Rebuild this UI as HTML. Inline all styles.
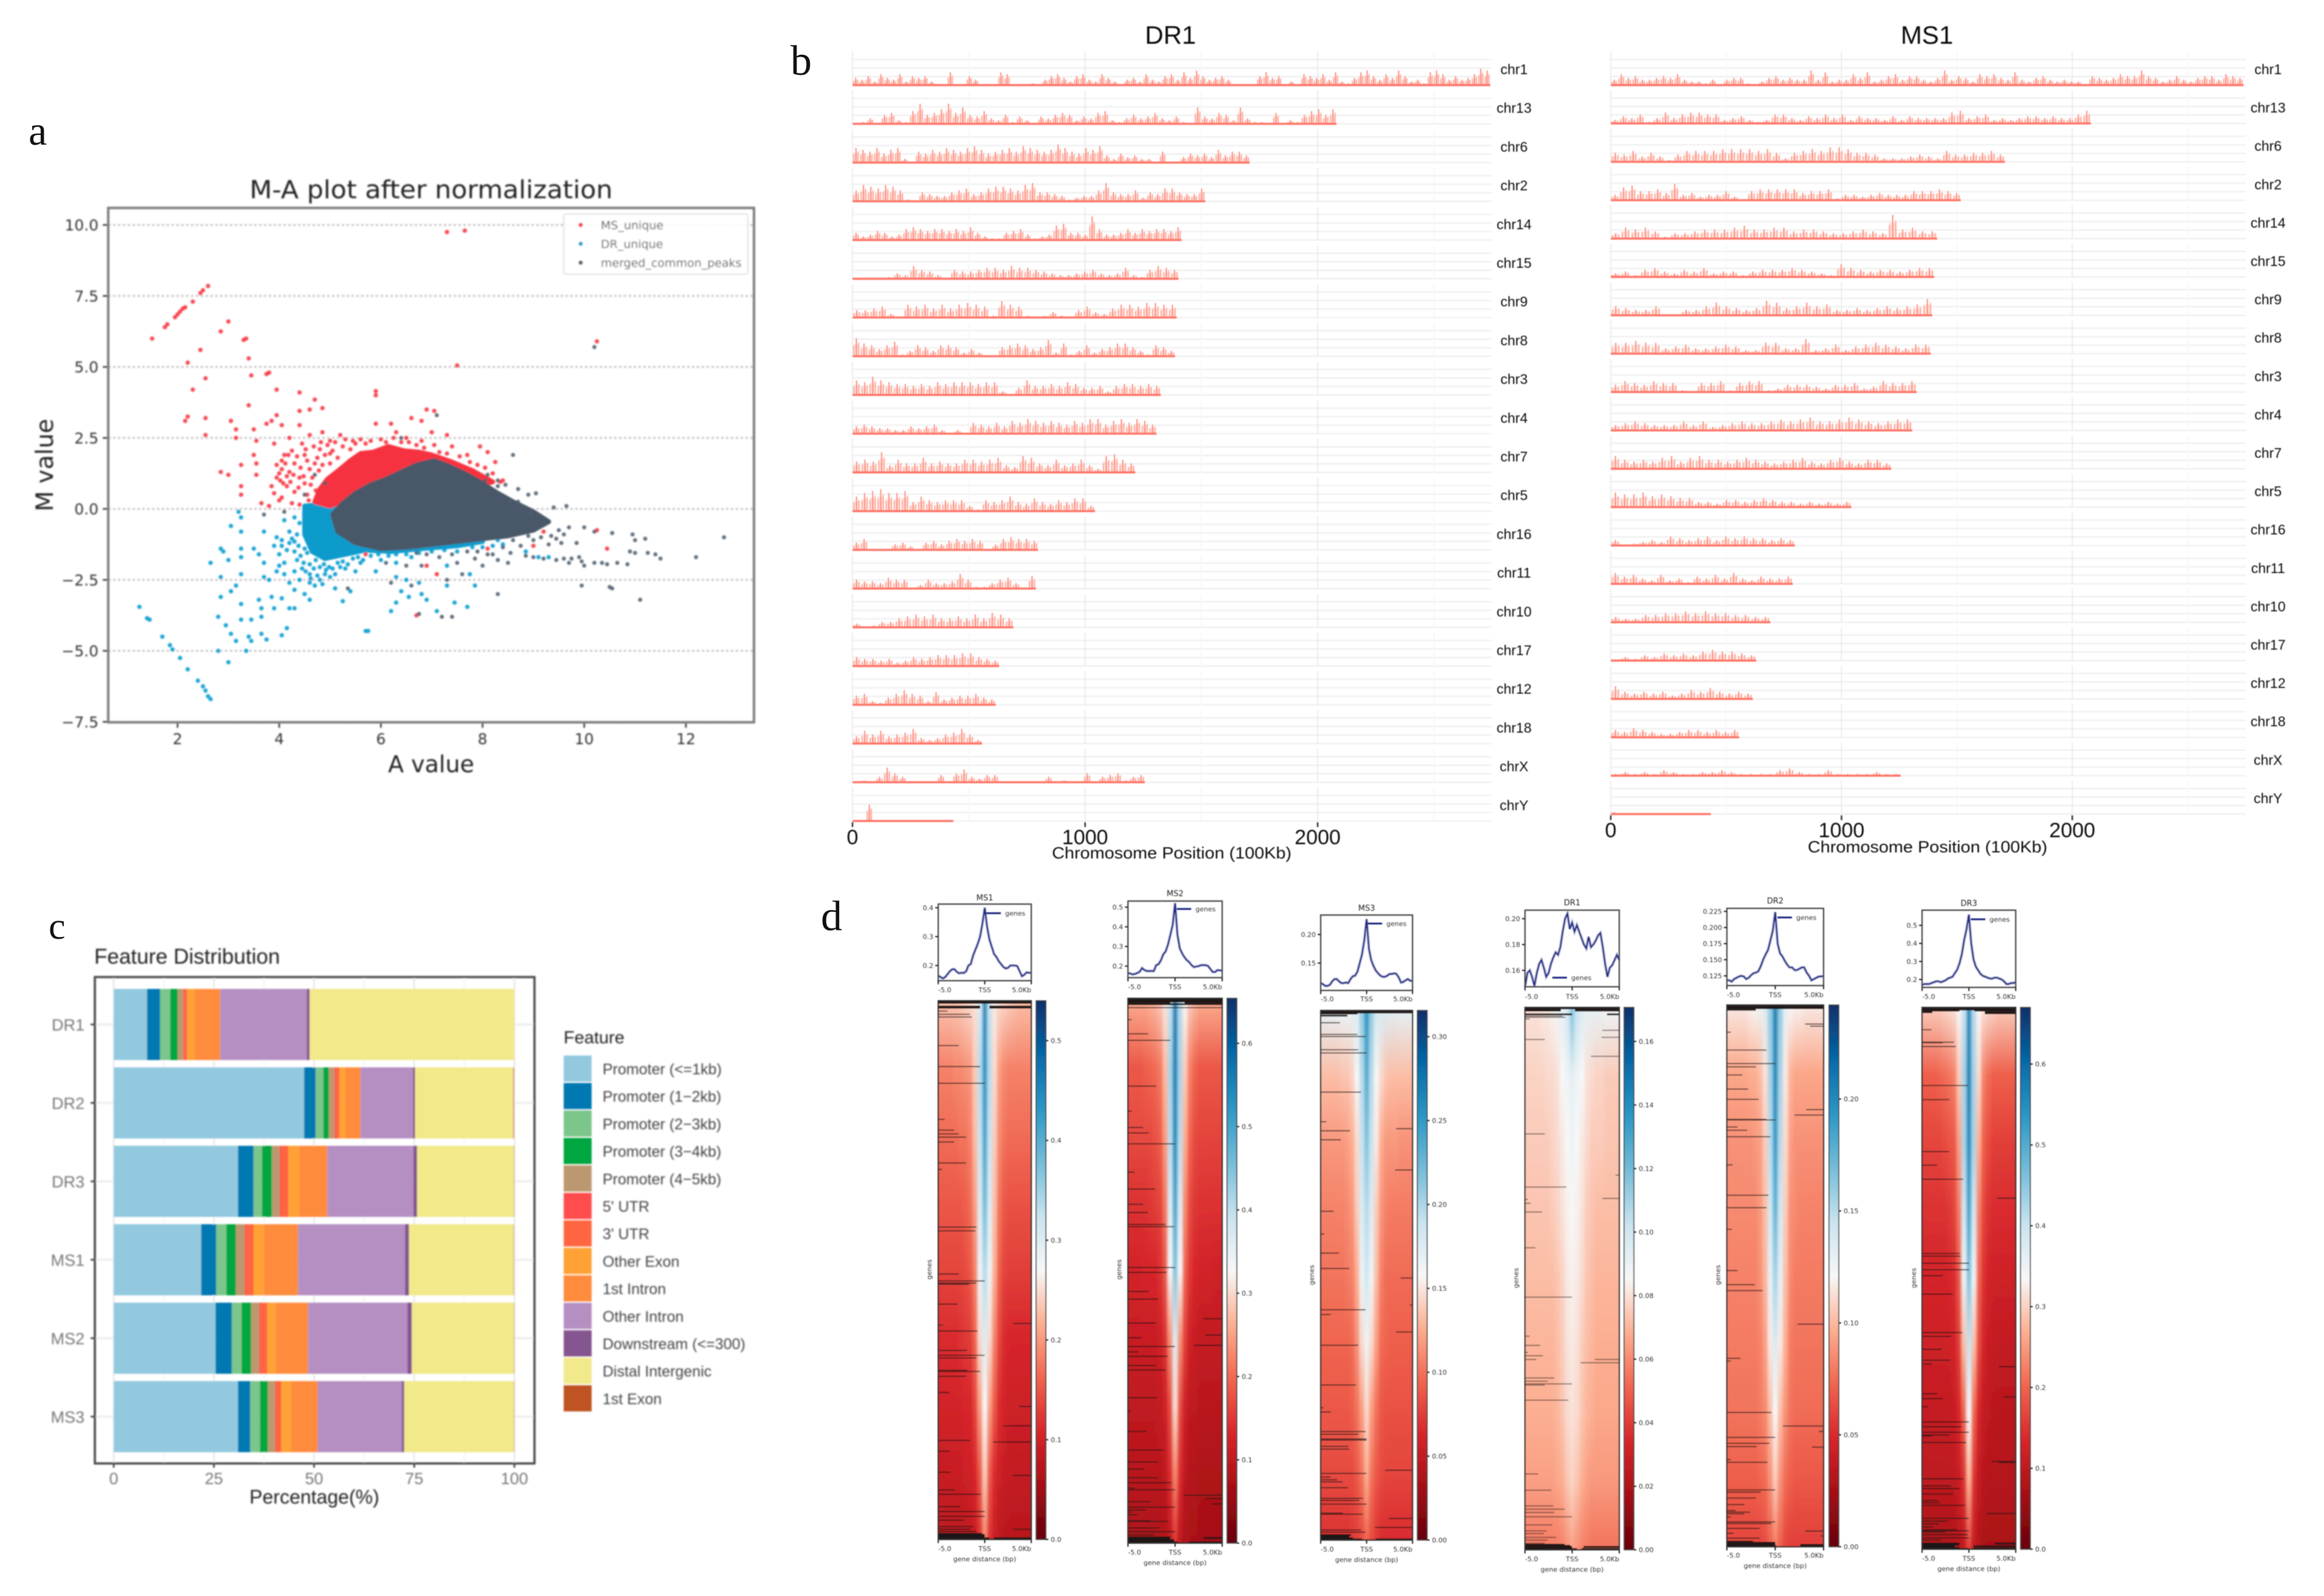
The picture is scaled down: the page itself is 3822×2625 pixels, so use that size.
<!DOCTYPE html>
<html lang="en">
<head>
<meta charset="utf-8">
<title>ATAC-seq multi-panel figure</title>
<style>
html,body{margin:0;padding:0;background:#fff;}
svg{display:block;}
.serif{font-family:"Liberation Serif",serif;fill:#111;}
.sans{font-family:"Liberation Sans",sans-serif;}
.dv{font-family:"DejaVu Sans",sans-serif;}
</style>
</head>
<body>
<svg id="fig" xmlns="http://www.w3.org/2000/svg" width="3822" height="2625" viewBox="0 0 3822 2625">
<defs>
<filter id="soft" filterUnits="userSpaceOnUse" x="0" y="0" width="3822" height="2625"><feGaussianBlur stdDeviation="1.2"/></filter>
<filter id="softer" filterUnits="userSpaceOnUse" x="0" y="0" width="3822" height="2625"><feGaussianBlur stdDeviation="0.7"/></filter>
</defs>
<rect width="3822" height="2625" fill="#fff"/>

<text class="serif" x="47" y="238" font-size="68">a</text>
<text class="serif" x="1300" y="123" font-size="70">b</text>
<text class="serif" x="80" y="1544" font-size="62">c</text>
<text class="serif" x="1350" y="1530" font-size="70">d</text>

<g id="panelA" filter="url(#soft)">
<text class="dv" x="709" y="326" font-size="41" text-anchor="middle" textLength="597" lengthAdjust="spacingAndGlyphs" fill="#222">M-A plot after normalization</text>
<text class="dv" x="709" y="1270" font-size="38" text-anchor="middle" fill="#222">A value</text>
<text class="dv" x="87" y="765" font-size="39" text-anchor="middle" transform="rotate(-90 87 765)" fill="#222">M value</text>
</g>

<g id="panelB" filter="url(#softer)">
<text class="sans" x="1925" y="72" font-size="42" text-anchor="middle" fill="#111">DR1</text>
<text class="sans" x="3169" y="72" font-size="42" text-anchor="middle" fill="#111">MS1</text>
<text class="sans" x="1927" y="1412" font-size="27" text-anchor="middle" textLength="394" lengthAdjust="spacingAndGlyphs" fill="#111">Chromosome Position (100Kb)</text>
<text class="sans" x="3170" y="1402" font-size="27" text-anchor="middle" textLength="394" lengthAdjust="spacingAndGlyphs" fill="#111">Chromosome Position (100Kb)</text>
</g>

<g id="panelC" filter="url(#soft)">
<text class="sans" x="155" y="1585" font-size="35" fill="#222">Feature Distribution</text>
<text class="sans" x="517" y="2473" font-size="32" text-anchor="middle" fill="#222">Percentage(%)</text>
<text class="sans" x="927" y="1716" font-size="29" fill="#222">Feature</text>
</g>

<g id="panelD" filter="url(#softer)"></g>
</svg>

<script>
/* ---------- panel a data : [A value, M value] ---------- */
const maRedPoints=[[1.5,6],[1.75,6.4],[1.8,6.5],[1.95,6.75],[2,6.85],[2.05,6.95],[2.1,7.05],[2.15,7.1],[2.3,7.3],[2.45,7.6],[2.5,7.7],[2.6,7.85],[2.2,5.15],[2.45,5.6],[2.55,4.6],[2.3,4.2],[2.15,3.1],[2.2,3.25],[2.55,3.2],[2.55,2.6],[2.85,6.25],[3,6.6],[3.3,5.95],[3.35,6],[3.4,5.3],[3.45,4.7],[3.8,4.8],[3.75,4.75],[3.95,4.2],[4.4,4.1],[4.7,3.85],[4.4,3.45],[4.6,3.5],[4.85,3.55],[3.4,3.65],[3.85,3.1],[3.95,3.3],[3.75,3],[3.05,3.1],[3.15,2.8],[3.15,2.5],[3.5,2.8],[4.05,2.95],[4.4,2.95],[4.6,2.6],[4.85,2.7],[3.55,2.4],[3.9,2.3],[4.2,2.5],[3.5,1.9],[3.55,1.6],[3.25,1.55],[2.85,1.3],[3,1.2],[3.25,.8],[3.25,.5],[3.55,1.2],[3.65,.2],[3.85,.8],[5.9,4.15],[5.9,4],[5.9,3],[6.2,3],[6.6,3.2],[6.8,3.1],[6.9,3.5],[7.05,3.45],[7.3,2.6],[6.3,2.7],[7.3,9.75],[7.65,9.8],[7.5,5.05],[10.25,5.9],[7.95,2.2],[8.1,2],[8.25,1.65],[8.4,1],[4.1,1.9],[4.05,1.4],[3.95,1.1],[4.2,1.3],[4.3,1.6],[4.5,1.9],[4.15,.8],[4.3,.6],[4.5,.9],[4.6,1.4],[4.75,1.8],[5.2,2.6],[5,2.4],[5.5,2.3],[10.25,-.75],[10.45,-1.4],[6.7,-3.75],[7.1,-2.3],[6.9,-2],[5.7,-1.6],[8.1,-1.4],[9,-1.3],[9.2,-.8],[4,.3],[3.8,.1],[4.05,1.7],[4.15,1.15],[4.25,2.05],[4.4,1.1],[4.45,2.3],[4.55,.5],[4.65,1.1],[4.8,2.1],[5,1.95],[6.5,2.5],[6.8,2.4],[7,2.7],[7.4,2.2],[7.7,1.9],
[3.95,1.55],[4,1.25],[4.02,1],[4.08,.9],[4.12,1.6],[4.18,1.9],[4.22,.95],[4.28,1.2],[4.35,1.85],[4.38,.75],[4.42,1.45],[4.48,1.15],[4.52,2.1],[4.55,1.7],[4.58,.3],[4.62,.85],[4.68,2.2],[4.7,1.6],[4.72,.65],[4.78,1.35],[4.82,2.35],[4.85,1.55],[4.9,1.9],[4.95,2.25],[5,1.6],[5.05,2.05],[5.1,2.35],[5.15,1.8],[5.25,2.2],[5.3,2.45],[5.4,2.1],[5.45,2.4],[5.6,2.45],[5.7,2.3],[5.8,2.4],[6,2.45],[6.1,2.35],[6.25,2.5],[6.4,2.35],[6.55,2.35],[6.7,2.25],[6.85,2.15],[7.05,2.25],[7.15,2],[7.3,1.95],[7.55,1.85],[7.75,1.65],[7.9,1.55],[8.05,1.45],[8.2,1.25],[8.35,.95],[3.9,.55],[4.05,.4],[4.25,.2],[4.4,.15]];
const maBluePoints=[[1.25,-3.45],[1.4,-3.85],[1.45,-3.9],[1.7,-4.5],[1.85,-4.8],[1.9,-4.95],[2.05,-5.25],[2.2,-5.65],[2.4,-6.05],[2.5,-6.25],[2.55,-6.4],[2.6,-6.6],[2.65,-6.7],[3.05,-.6],[3.25,-.3],[3.25,-.8],[3.7,-.8],[3.95,-1],[2.65,-1.9],[2.85,-1.4],[2.9,-1.5],[3,-1.8],[3.25,-1.4],[3.25,-1.7],[3.5,-1.4],[3.6,-1.6],[3.7,-1.9],[2.85,-2.4],[3.25,-2.3],[3.15,-2.7],[3.05,-2.9],[2.85,-3.1],[3.25,-3.35],[3.6,-3.2],[3.85,-3.1],[3.65,-3.5],[3.9,-3.5],[4.05,-3.15],[4.2,-3.5],[4.3,-3.5],[3.25,-3.9],[3.45,-3.9],[3.65,-3.8],[2.8,-3.8],[2.95,-4.1],[3.05,-4.4],[3.15,-4.65],[3.4,-4.5],[3.45,-4.65],[3.65,-4.4],[3.75,-4.6],[4.05,-4.45],[4.15,-4.2],[2.8,-5],[3,-5.4],[3.35,-5],[3.95,-2.2],[4.1,-2.3],[4.2,-2.6],[4.3,-2.85],[4.5,-3],[4.6,-3.2],[3.7,-2.4],[3.8,-2.5],[4,-1.6],[4.05,-1.3],[4.1,-1.9],[4.3,-1.5],[4.3,-2.2],[5.75,-4.3],[5.7,-4.3],[5.25,-3.25],[6.2,-3.6],[6.3,-3.3],[6.55,-3.1],[6.8,-3],[6.9,-3.2],[7.1,-3.6],[7.45,-3.3],[7.7,-3.45],[6.4,-2.9],[6.75,-2.6],[7.85,-2.7],[7.3,-2.7],[5.1,-2.8],[5.4,-2.9],[5,-2.4],[5.5,-2.2],[5.9,-2.2],[6.3,-2.4],[6.5,-2.5],[6.3,-1.9],[7.3,-2],[7.75,-2.3],[8.85,-1.5],[9.1,-1.7],[9.3,-1.7],[8.2,-1.3],[8.3,-1.1],[3.2,-.1],[4.1,-.4],[4.2,-.8],[4.6,-2.6],[4.8,-2.5],[3.9,-1.3],[4,-2],[4.2,-1.2],[4.35,-1.8],[4.4,-2.5],[4.45,-2.1],[4.5,-1.4],[4.6,-2.3],[4.7,-2.7],[4.9,-2.3],[5.3,-2.1],[5.6,-1.9],[6,-1.8],[6.6,-1.7],
[4.05,-1.1],[4.15,-1.45],[4.25,-1.05],[4.35,-.9],[4.38,-1.3],[4.42,-1.65],[4.48,-1.9],[4.52,-2.2],[4.55,-1.55],[4.6,-1.95],[4.62,-2.45],[4.68,-2.1],[4.72,-1.8],[4.75,-2.35],[4.8,-2.05],[4.85,-2.65],[4.88,-1.95],[4.92,-2.15],[4.98,-2.05],[5.05,-2.1],[5.1,-2.3],[5.15,-1.9],[5.2,-2.05],[5.25,-1.85],[5.35,-1.95],[5.45,-1.75],[5.55,-1.7],[5.65,-1.8],[5.8,-1.65],[5.95,-1.6],[6.15,-1.65],[6.3,-1.6],[6.5,-1.6],[6.75,-1.55],[7,-1.5],[7.25,-1.45],[7.5,-1.5],[7.8,-1.35],[8,-1.35],[8.4,-1.25],[4.3,-.3],[4.4,-.5],[4.3,-1.15]];
const maGrayPoints=[[10.2,5.7],[7.1,3.3],[8.6,1.9],[6.4,2.5],[8.7,.7],[8.9,.5],[9.05,.55],[9.4,.05],[9.65,.1],[7.2,-3.8],[7.4,-3.8],[6.75,-3.7],[8.3,-3],[9.95,-2.7],[10.5,-2.75],[10.55,-2.8],[11.1,-3.2],[12.2,-1.7],[12.75,-1],[11.5,-1.75],[11.4,-1.6],[11.25,-1.55],[11,-1.55],[10.9,-1.5],[10.85,-1.95],[10.45,-1.95],[10.35,-1.9],[10.2,-1.9],[10,-2],[9.95,-1.85],[9.75,-1.75],[9.6,-1.75],[9.45,-1.8],[9.2,-1.75],[9,-1.7],[8.85,-1.65],[9.55,-1.2],[9.6,-.9],[9.35,-.95],[9.5,-.75],[9,-1.1],[10,-.65],[10.2,-.8],[10.55,-.85],[10.95,-.9],[11,-1.1],[11.2,-1.05],[8.2,-1.6],[8.3,-1.8],[8.5,-1.9],[7.5,-1.9],[7.6,-2.3],[7.3,-2.5],[6.8,-2],[6.5,-2],[6.1,-1.9],[6.6,-2.7],[6.2,-2.6],[5.35,-2.8],[4.9,.9],[4.5,.5],[4.1,-.1],[3.7,-.2],[4.7,1.2],[8.3,.8],[8.05,1],[8.55,.3],[9.7,-.65],[10.65,-1.9],[9.9,-1.7],[8,-2],[7.9,-1.5],[7.7,-1.5],
[8.6,-1.1],[8.75,-1.3],[8.9,-.95],[9.15,-1],[9.3,-1.25],[9.45,-1.05],[8.4,-1.35],[8.55,-1.55],[8.1,-1.6],[7.85,-1.75],[7.4,-1.6],[7.15,-1.7],[6.9,-1.6],[6.7,-1.55],[9.7,-1.9],[9.85,-1.2],[8.1,1.2],[8.3,1],[8.45,.85],[8.7,.25],[8.95,-.15]];
const maRedCloud=[[4.7,.25],[4.8,.7],[4.95,1.05],[5.2,1.4],[5.4,1.7],[5.6,1.95],[5.85,2],[6.15,2.2],[6.45,2.05],[6.75,2],[7,1.9],[7.4,1.65],[7.8,1.35],[8.2,.95],[7,.5],[6,.8],[5,.1]];
const maBlueCloud=[[4.5,.1],[4.5,-.9],[4.65,-1.5],[4.9,-1.75],[5.3,-1.6],[5.7,-1.45],[6.2,-1.5],[6.8,-1.4],[7.5,-1.3],[8,-1.15],[6,-.5],[5,.2]];
const maGrayCloud=[[5.05,-.2],[5.25,.2],[5.5,.55],[5.8,.85],[6.1,1.05],[6.4,1.3],[6.7,1.55],[7.05,1.7],[7.35,1.5],[7.7,1.2],[8,.9],[8.3,.55],[8.6,.25],[9,-.1],[9.3,-.45],[9,-.75],[8.5,-.95],[8,-1.05],[7.5,-1.15],[7,-1.25],[6.5,-1.35],[6,-1.4],[5.5,-1.2],[5.15,-.8]];
const maXTicks=[2,4,6,8,10,12];
const maYTicks=[10,7.5,5,2.5,0,-2.5,-5,-7.5];
const maLegendLabels=['MS_unique','DR_unique','merged_common_peaks'];

/* ---------- panel b data ---------- */
const chromNames=['chr1','chr13','chr6','chr2','chr14','chr15','chr9','chr8','chr3','chr4','chr7','chr5','chr16','chr11','chr10','chr17','chr12','chr18','chrX','chrY'];
const chromLengths=[2742,2081,1708,1517,1415,1402,1394,1387,1326,1307,1216,1043,798,789,692,631,616,557,1257,434];
const trackTicks=[0,1000,2000];
const dr1Peaks=[
[4,3,5,2,6,4,3,6,2,5,4,5,2,0,0,7,0,0,5,3,0,0,0,7,6,0,0,0,1,0,3,5,6,4,2,5,6,3,2,6,4,2,0,3,4,2,6,3,2,5,6,3,7,4,8,5,3,4,5,3,0,0,0,0,5,7,4,5,0,2,0,6,5,4,6,3,7,2,1,4,7,8,5,3,6,4,8,5,2,3,1,7,8,6,3,5,3,4,6,9,8],
[0,1,3,0,5,6,2,1,7,11,5,6,8,11,6,9,5,4,7,3,2,5,1,4,2,0,4,3,5,6,5,2,4,3,6,7,2,1,3,5,3,4,6,3,2,4,1,0,9,4,3,6,5,2,9,3,1,1,0,6,0,2,1,5,7,8,5,8],
[8,7,6,8,5,7,8,2,0,6,5,7,6,8,7,6,8,9,7,5,6,7,8,6,9,8,7,6,7,10,8,6,5,8,7,9,4,2,5,3,4,2,2,0,6,0,0,3,5,4,5,3,7,4,6,6,4],
[6,9,8,7,9,8,6,1,0,5,4,3,3,5,6,7,4,5,7,8,8,7,6,9,10,5,5,4,3,1,2,3,3,6,10,5,4,4,6,2,5,4,7,7,5,4,4,7],
[4,2,3,5,4,2,3,6,7,6,5,6,6,5,6,5,7,4,2,1,1,4,5,6,3,1,2,3,8,9,4,4,3,13,6,3,3,4,6,4,6,5,6,6,5,7],
[0,0,0,0,1,3,2,7,5,4,2,0,5,4,4,5,6,6,5,7,6,6,5,4,3,2,2,3,4,5,3,2,3,6,2,1,5,7,6,5],
[4,4,5,6,2,0,7,6,7,5,7,5,7,8,7,6,1,9,7,6,1,0,1,3,1,0,4,6,3,2,5,7,7,6,8,8,7,7],
[10,7,6,4,6,8,1,3,6,5,3,6,6,5,2,4,2,0,0,5,6,7,6,4,5,9,2,7,1,3,6,2,4,5,7,7,5,3,1,6,5,3],
[8,7,10,8,7,6,6,5,6,5,7,6,7,7,7,6,7,7,2,0,4,8,5,5,6,5,7,6,4,4,5,2,5,6,6,5,6,5],
[4,5,4,3,3,2,2,4,3,4,5,2,0,2,0,6,5,4,6,4,7,6,8,7,6,7,6,5,7,6,8,8,5,7,8,6,8,7,5],
[6,7,6,11,4,7,5,5,8,5,6,5,5,7,7,6,7,8,4,3,9,8,5,4,7,4,5,7,4,2,9,10,7,5],
[8,10,11,12,10,10,11,5,8,6,5,6,6,6,3,1,6,5,6,8,5,4,7,5,4,6,5,7,7,3],
[4,6,0,0,0,3,4,2,0,4,5,3,5,6,5,6,5,0,3,6,7,6,6,5],
[5,4,4,3,6,5,5,0,2,5,3,3,4,8,5,1,1,3,5,6,3,0,7],
[2,0,1,3,3,5,6,7,6,7,5,5,6,5,7,5,8,7,5],
[5,4,4,3,4,2,3,5,4,5,6,6,6,7,7,5,4,3],
[5,6,2,1,4,6,8,6,5,2,7,3,4,5,5,6,4,3],
[4,7,5,7,4,5,6,8,3,2,3,5,6,8,5,2],
[0,1,0,3,8,5,3,0,0,0,0,4,0,5,7,3,2,4,4,0,0,0,0,0,0,3,0,1,0,0,5,0,3,4,5,1,3,4],
[0,0,9,0,0,0,0,0,0,0,0,0,0,0,0]];
const ms1Peaks=[
[3,6,4,5,3,3,4,5,4,6,3,2,2,1,3,0,3,4,4,1,0,2,4,5,3,4,3,3,8,3,7,2,3,3,6,4,7,2,3,5,6,3,5,5,3,2,4,8,3,5,4,2,6,5,6,4,3,7,3,2,4,5,3,2,3,2,2,0,5,4,3,4,6,5,5,8,5,4,2,3,5,3,2,4,5,5,3,6,5,4],
[2,4,3,5,1,3,6,3,5,6,6,5,5,2,3,4,2,1,2,5,5,3,2,4,3,5,3,5,2,4,3,3,2,4,2,4,3,3,3,3,6,7,3,4,5,2,3,2,3,4,4,3,4,3,3,5,7],
[5,4,6,3,5,3,1,4,6,6,6,6,7,7,7,7,6,7,5,2,5,6,7,6,8,8,7,5,5,4,2,2,2,3,4,3,2,6,4,4,5,5,6,4],
[3,7,8,5,5,6,4,9,3,4,2,3,3,5,2,0,5,6,6,6,6,6,4,5,5,6,1,3,3,2,3,4,3,3,3,5,5,5,6,5,4],
[3,6,5,6,4,1,3,3,4,5,5,5,6,7,5,5,6,6,4,5,5,4,3,3,4,5,4,3,13,5,6,4,4],
[2,3,1,4,5,3,2,4,3,5,2,3,3,1,3,4,4,4,5,4,3,2,1,7,5,4,3,4,4,3,4,5,5],
[5,4,3,3,5,0,0,3,3,5,7,5,4,3,4,8,7,4,5,7,5,6,3,3,4,3,4,5,4,5,6,9],
[6,6,7,6,6,3,4,5,3,3,4,5,4,2,2,6,6,3,3,8,2,3,5,2,4,5,6,5,4,3,5,5],
[4,6,5,4,6,5,5,1,0,5,5,6,1,5,6,6,1,2,4,4,4,3,2,4,4,5,2,3,6,5,5,6],
[3,4,5,4,3,3,3,5,3,5,2,3,4,5,4,4,5,6,5,6,7,5,5,6,7,6,5,4,5,6,6],
[7,5,4,5,4,6,7,4,6,7,5,5,4,5,6,5,4,3,4,5,6,4,3,5,6,4,3,5,5,3],
[8,7,7,8,6,7,6,5,5,3,3,2,4,4,3,4,5,4,3,3,2,3,2,3,2,3],
[3,0,1,2,3,2,5,4,3,4,5,3,5,4,5,4,4,3,4,3],
[6,4,5,3,2,5,2,3,1,4,3,5,3,6,3,2,4,3,3,4],
[3,2,2,4,4,5,5,6,5,6,5,5,4,4,3,3],
[0,2,1,3,2,4,3,4,3,5,6,5,5,4,3],
[7,4,3,4,3,4,2,3,5,4,6,4,3,4,3],
[4,3,5,4,3,2,2,3,4,4,3,4,3,4],
[1,2,1,2,1,3,2,1,1,2,2,3,2,1,1,1,1,3,4,2,1,1,3,1,1,1,1,2,1,1],
[1,0,0,0,0,0,0,0,0,0,0,0,0,0,0]];

/* ---------- panel c data : percent per feature ---------- */
const featureNames=['Promoter (<=1kb)','Promoter (1\u22122kb)','Promoter (2\u22123kb)','Promoter (3\u22124kb)','Promoter (4\u22125kb)',"5' UTR","3' UTR",'Other Exon','1st Intron','Other Intron','Downstream (<=300)','Distal Intergenic','1st Exon'];
const sampleNames=['DR1','DR2','DR3','MS1','MS2','MS3'];
const featureDR1=[8.3,3.3,2.5,1.9,1.4,.3,.6,1.9,6.4,21.6,.7,51.1,0];
const featureDR2=[47.5,2.9,1.9,1.4,1.4,.4,.8,1.5,3.8,13.1,.5,24.5,.2];
const featureDR3=[31,3.9,2.1,2.5,1.9,.4,1.8,2.7,7,21.5,.9,24.2,.1];
const featureMS1=[21.8,3.8,2.5,2.4,2.2,.4,1.8,2.6,8.5,26.7,1,26.1,.1];
const featureMS2=[25.4,4.1,2.4,2.4,2,.4,1.6,2.1,8.1,24.8,1.1,25.5,.1];
const featureMS3=[31,3.1,2.4,2,1.8,.3,1.2,2.5,6.6,21,.6,27.4,.1];
const featureRows=[featureDR1,featureDR2,featureDR3,featureMS1,featureMS2,featureMS3];
const featureXTicks=[0,25,50,75,100];

/* ---------- panel d data ---------- */
const profileMS1=[.165,.16,.155,.16,.17,.18,.187,.187,.178,.173,.175,.174,.18,.2,.205,.235,.255,.275,.3,.345,.4,.335,.29,.265,.24,.23,.215,.205,.195,.19,.192,.2,.2,.2,.198,.18,.163,.168,.176,.175,.175];
const profileMS2=[.165,.162,.158,.16,.165,.172,.19,.18,.175,.175,.175,.175,.205,.21,.23,.26,.275,.31,.36,.41,.52,.36,.29,.265,.245,.23,.22,.205,.195,.198,.2,.205,.205,.205,.2,.185,.17,.17,.18,.178,.178];
const profileMS3=[.115,.113,.11,.11,.112,.118,.122,.122,.118,.115,.115,.116,.115,.122,.127,.128,.135,.15,.165,.19,.227,.175,.155,.145,.137,.132,.128,.126,.126,.128,.131,.131,.132,.131,.125,.116,.117,.12,.122,.119,.119];
const profileDR1=[.147,.158,.16,.155,.148,.158,.165,.168,.162,.155,.158,.165,.17,.174,.172,.178,.19,.2,.204,.192,.197,.19,.195,.19,.185,.18,.177,.186,.178,.18,.183,.187,.189,.178,.165,.155,.162,.164,.168,.172,.168];
const profileDR2=[.118,.118,.116,.12,.122,.124,.125,.124,.12,.122,.126,.129,.13,.132,.14,.15,.158,.165,.18,.195,.224,.175,.16,.155,.148,.142,.138,.138,.134,.134,.136,.138,.138,.13,.125,.118,.12,.122,.124,.124,.125];
const profileDR3=[.17,.175,.175,.175,.18,.185,.19,.19,.185,.19,.195,.205,.21,.215,.235,.255,.29,.34,.42,.48,.56,.4,.31,.27,.25,.23,.22,.215,.21,.205,.205,.21,.21,.205,.2,.19,.175,.175,.18,.18,.185];

/* heat values are 0-100 positions on the colour bar; rows run top to bottom, columns -5kb to +5kb */
const heatMS1=[
[43,43,43,43,44,45,46,47,56,82,60,48,46,45,44,43,42,42,42],
[34,34,34,35,35,36,37,44,62,80,62,46,38,35,34,34,34,34,34],
[31,31,31,31,32,32,34,42,60,76,60,44,35,32,31,31,31,31,31],
[28,28,28,28,28,29,31,38,56,70,56,42,32,28,27,27,27,27,27],
[25,25,25,25,25,26,28,34,52,62,52,40,29,25,24,24,24,24,24],
[21,21,21,21,22,23,24,30,46,56,46,34,25,21,20,20,20,20,20],
[19,19,19,19,19,20,20,25,38,50,38,28,21,19,18,18,18,18,18],
[17,17,17,17,17,18,18,20,28,44,28,21,18,17,16,16,16,16,16],
[15,15,15,15,15,15,16,17,22,34,22,17,15,14,14,14,14,14,14]];
const heatMS2=[
[40,40,40,40,41,42,44,48,60,84,62,50,44,42,40,40,40,40,40],
[28,28,28,29,30,31,33,42,64,84,64,44,34,30,28,28,28,28,28],
[26,26,26,26,26,27,29,38,62,82,62,40,30,26,25,25,25,25,25],
[22,22,22,22,23,24,25,33,56,76,56,35,26,23,22,22,22,22,22],
[19,19,19,20,20,20,22,28,50,68,50,30,23,20,19,19,19,18,18],
[17,17,17,17,17,17,18,22,36,56,36,24,18,17,16,16,16,16,16],
[15,15,15,15,15,15,16,18,26,46,26,18,15,15,14,14,14,14,14],
[14,14,14,14,14,14,14,15,21,34,21,15,13,13,12,12,12,12,12],
[12,12,12,12,12,12,12,13,15,22,15,12,11,11,10,10,10,10,10]];
const heatMS3=[
[54,54,54,53,53,53,54,56,66,80,66,58,56,56,55,55,54,54,54],
[42,42,42,42,43,43,45,50,62,74,62,50,46,43,42,42,42,42,42],
[37,37,37,37,37,38,40,46,60,68,60,48,40,37,37,37,36,36,36],
[34,34,34,34,34,35,37,44,56,62,56,44,37,34,33,33,33,33,33],
[32,32,32,32,32,33,34,40,52,58,52,42,34,31,31,31,31,31,31],
[30,30,30,30,30,30,31,36,46,52,46,38,31,30,29,29,29,29,29],
[28,28,28,28,28,28,29,32,38,46,38,32,28,27,27,27,27,27,27],
[26,26,26,26,26,26,26,28,32,40,32,28,26,25,25,25,25,25,25],
[22,22,22,22,22,22,23,24,26,30,26,23,21,21,21,21,21,21,21]];
const heatDR1=[
[47,47,47,48,48,49,51,54,58,68,60,56,54,54,54,53,52,52,52],
[45,45,45,45,46,46,47,50,52,54,52,50,47,46,45,45,44,44,44],
[44,44,44,44,44,45,46,48,50,52,50,48,46,44,44,44,43,43,43],
[43,43,43,43,43,44,45,47,49,50,49,47,44,43,42,42,42,42,42],
[42,42,42,42,42,42,43,45,48,49,48,46,43,42,41,41,41,41,41],
[41,41,41,41,41,41,42,44,47,48,47,44,42,41,40,40,40,40,40],
[40,40,40,40,40,40,41,43,46,47,46,43,41,40,39,39,39,39,39],
[38,38,38,38,38,38,39,40,43,45,43,40,38,37,37,37,37,37,37],
[33,33,33,33,33,33,33,34,36,38,36,34,33,32,32,32,32,32,32]];
const heatDR2=[
[48,48,48,48,49,50,52,56,66,84,66,54,50,49,49,48,48,48,48],
[39,39,39,39,40,40,42,47,64,82,64,48,41,39,39,39,39,39,39],
[36,36,36,36,36,37,38,44,62,78,62,46,38,36,36,36,36,36,36],
[35,35,35,35,35,35,37,42,58,72,58,44,36,35,34,34,34,34,34],
[34,34,34,34,34,34,36,41,54,64,54,42,35,33,33,33,33,33,33],
[33,33,33,33,33,33,34,38,48,56,48,40,33,32,32,32,32,32,32],
[32,32,32,32,32,32,33,35,42,50,42,36,32,31,31,31,31,31,31],
[29,29,29,29,29,29,30,31,36,44,36,31,29,28,28,28,28,28,28],
[25,25,25,25,25,25,25,26,29,33,29,25,24,24,24,24,24,24,24]];
const heatDR3=[
[44,44,44,44,45,46,47,50,60,82,62,50,47,46,45,44,44,44,44],
[29,29,29,30,31,32,34,44,64,84,64,46,34,31,29,29,29,29,29],
[25,25,25,25,26,27,28,38,64,82,64,40,29,26,24,24,24,24,24],
[22,22,22,22,22,23,25,33,58,76,58,34,25,22,21,21,21,21,21],
[19,19,19,19,19,20,21,28,52,68,52,30,22,19,18,18,18,18,18],
[18,18,18,18,18,18,19,24,42,60,42,26,19,17,16,16,16,16,16],
[16,16,16,16,16,16,17,20,30,50,30,20,16,15,14,14,14,14,14],
[15,15,15,15,15,15,15,17,22,40,22,16,14,13,13,13,13,13,13],
[12,12,12,12,12,12,13,14,16,24,16,13,11,11,11,11,11,11,11]];

/* missing-data rows: [row % from top, start kb, end kb] */
const gapsMS1=[[0,-5,5],[.2,-5,5],[.9,-5,-.5],[.9,.5,5],[1.1,-5,-.5],[1.1,.5,5],[1.8,-5,-4],[2.4,-5,-1.6],[2.9,-5,-1.4],[8.2,-5,-2.8],[12.1,-5,-.5],[15.2,-5,0],[21.9,-5,-4.3],[23.9,-5,-3.3],[24.6,-5,-2.8],[25.2,-5,-2],[26.1,-5,-3.3],[30,-5,-2],[31.2,-5,-4.6],[41.9,-5,-.9],[42.6,-5,-1],[50.6,-5,-2.8],[51.9,-5,0],[52.3,-5,-.9],[52.5,-5,-1.7],[56.2,-5,-2.9],[59.8,3.1,5],[60.1,-5,-4.5],[61.2,-5,-.8],[64.8,-5,-1.9],[65.7,-5,0],[66.2,-5,-.9],[68.5,-5,-1.9],[68.7,-5,-.5],[69.6,-5,-2],[72.6,-5,-3.8],[75.2,3.7,5],[78.8,2,5],[81.5,-5,-1.6],[81.8,.9,5],[83.5,-5,-3.8],[87.4,-5,-3.7],[88,3,5],[90.7,-5,-3.2],[91.5,-5,-.4],[93.8,-5,-2.6],[94.7,-5,0],[95.6,-5,0],[96.3,-5,-2.2],[97.5,-5,-1.2],[98,-5,-1.5],[98,3,5],[98.4,-5,-.9],[98.8,-5,-.3],[99,-5,0],[99.2,-5,0],[99.4,-5,0],[99.6,-5,.5],[99.6,1,5],[99.8,-5,.5],[99.8,1,5]];
const gapsMS2=[[0,-5,5],[.2,-5,5],[.4,-5,5],[.6,-5,-.5],[.6,1,5],[.9,-5,5],[1.6,-5,5],[3.8,-5,-4.6],[6.4,-5,-2.85],[7.6,-5,-.5],[16,-5,-2],[20.6,-5,-4.6],[23.6,-5,-3.4],[24.6,-5,-2.8],[26.6,-5,0],[31.8,-5,-4.3],[34.9,-5,-2.1],[37.7,-5,-3.4],[39.2,-5,-2.9],[41.4,-5,-1],[41.8,-5,-.1],[49.3,-5,0],[50.2,-5,-.9],[53.7,-5,-2.8],[55.1,-5,-1.8],[58.7,3,5],[59.5,-5,-2],[61.7,3.2,5],[62.2,-5,-3.6],[63.6,2,5],[63.8,-5,0],[64.8,-5,-3.9],[65.6,-5,-.8],[67.3,-5,-2],[68.1,-5,-1],[73.2,-5,-1.9],[75.7,-5,-4.7],[79.4,-5,-3],[82.8,-5,-1.2],[85,-5,-1.8],[86.3,-5,-3.3],[87.9,-5,-1.8],[88.8,-5,-.4],[89.8,-5,-4.3],[90.1,-5,0],[91.1,.9,5],[91.7,3.2,5],[92.3,-5,-2.6],[92.7,3.9,5],[93.3,-5,0],[93.8,-5,-3.1],[94.2,-5,-4.6],[94.7,-5,-4],[95.8,-5,-2.6],[95.9,-5,-.7],[97.1,-5,-1.7],[97.8,-5,0],[98.4,-5,-2.2],[98.8,-5,-.5],[98.9,3,5],[99.1,-5,-.5],[99.3,-5,-.1],[99.5,-5,-.1],[99.7,-5,.3],[99.7,1.5,5],[99.9,-5,.3],[99.9,1.5,5]];
const gapsMS3=[[0,-5,5],[.2,-5,5],[.4,-5,-1],[.8,-5,-2.1],[2.2,-5,-2.9],[4.4,-5,-1],[4.8,-5,-.1],[7.3,-5,-.9],[7.9,-5,0],[15.3,-5,-.6],[20.9,-5,-4.4],[22.2,3.2,5],[22.6,-5,-1.8],[24.3,-5,-2.8],[30,3.1,5],[37.8,-5,-3.6],[42.1,-5,-4.6],[45.7,-5,-3],[48.6,-5,-1.9],[50.4,3.7,5],[55.5,4.7,5],[56.4,-5,-.1],[57.3,-5,-3.9],[60.6,3.2,5],[63.1,-5,-.9],[70.6,-5,-1.2],[74.9,-5,-4.7],[75.7,-5,-3.9],[79.4,-5,-.1],[79.9,-5,-.9],[80.8,-5,0],[81,-5,0],[82.2,-5,-2],[82.7,-5,-1.9],[86.7,2,5],[87.3,-5,0],[88,-5,-3.9],[88.5,-5,-3.2],[88.9,-5,-2.6],[90,-5,-2],[92,-5,-.4],[92.4,-5,-.8],[93.1,-5,0],[94.8,-5,-2.6],[95,-5,-.4],[95.8,2.4,5],[97.5,.9,5],[98,-5,-.6],[98.4,-5,-.1],[98.9,-5,-1.7],[99.1,-5,-1.9],[99.3,-5,-1.9],[99.5,-5,-1.5],[99.7,-5,-.5],[99.7,1,5],[99.9,-5,-.5],[99.9,1,5]];
const gapsDR1=[[0,-5,5],[.2,-5,-1.2],[.2,.3,5],[.4,-5,-1.2],[.4,.3,5],[1.1,-5,0],[1.1,3.7,5],[1.5,-5,-1],[1.7,-5,-.7],[2,-5,-4.5],[4.1,3.2,5],[5.4,3.1,5],[5.8,-5,-2.9],[8.9,2,5],[23.2,-5,-2.9],[30.8,4.6,5],[33,-5,-.6],[35.1,3.2,5],[35.3,-5,-4.7],[36,-5,-4.4],[37.6,-5,-3.2],[44.2,-5,-3.9],[53.3,-5,0],[60.5,-5,-4.5],[62.2,-5,-3.4],[63.5,-5,-4.7],[64.1,-5,-3.1],[64.8,-5,-3.8],[64.8,2.4,5],[65.4,.9,5],[68.2,-5,-1.9],[68.8,-5,-2.6],[69.3,-5,0],[69.5,-5,-2.9],[72.3,-5,-.4],[85.9,-5,-3.6],[88.9,-5,-2.2],[91.8,-5,-2],[92.4,-5,-.8],[93,-5,-1.9],[93.8,-5,0],[95.3,-5,-2.1],[96.4,-5,-2.7],[96.9,-5,-3],[97.6,-5,-1.7],[98.1,-5,-2.6],[98.7,-5,-2.9],[98.9,-5,-.8],[99.1,-5,-.2],[99.3,-5,0],[99.5,-5,0],[99.3,1.2,5],[99.7,-5,.5],[99.7,1,5],[99.9,-5,.5],[99.9,1,5]];
const gapsDR2=[[0,-5,5],[.2,-5,5],[.4,-5,5],[.7,-5,-2],[3.4,3.1,5],[3.8,3.6,5],[4.9,-5,-4.6],[8.2,-5,-.9],[10.7,-5,0],[11.3,-5,-2],[12.8,-5,-3.4],[15.4,-5,-2.8],[17.3,-5,-1.7],[19.2,3.2,5],[20.2,2,5],[21,-5,-.9],[21.1,-5,0],[22.4,-5,-3.9],[23,-5,-2.9],[24.2,-5,-.5],[29.4,-5,-4.4],[35,-5,-.7],[37.3,-5,-.9],[41.3,-5,-4.5],[48.9,-5,-3.9],[51.5,-5,-2.1],[52.6,-5,-1.3],[58.8,2.3,5],[65.1,-5,-3.6],[65.6,-5,-4.6],[75.1,-5,-.4],[77.6,.8,5],[78.6,4.5,5],[79.7,-5,0],[80.8,-5,-.6],[81.4,-5,-1.9],[81.5,3.8,5],[83.8,-5,-4.6],[84.3,-5,-.8],[89.4,-5,0],[89.8,-5,-1.5],[90.9,-5,-2],[92.1,-5,-3.2],[93.2,-5,-4.1],[93.5,-5,-2.6],[93.8,-5,-3.2],[94.4,-5,-4.6],[95.3,-5,0],[95.6,-5,-.4],[96.5,-5,-1.6],[97,3.1,5],[97.4,-5,-4.3],[97.9,4.7,5],[98.3,-5,-1.6],[98.9,-5,-2.3],[99.1,-5,0],[99.3,-5,0],[99.5,-5,0],[99.5,2.6,5],[99.7,-5,.1],[99.8,2.6,5],[99.9,-5,.1]];
const gapsDR3=[[0,-5,5],[.2,-5,5],[.4,-5,-1],[.4,.6,5],[.7,-5,-3.9],[.7,1.7,5],[.9,1.7,5],[4,-5,-4],[6.3,-5,-1.6],[6.4,-5,-2.8],[7.1,-5,-1.4],[14.3,-5,-.1],[16.9,-5,-2.1],[26.5,-5,-2.1],[29,-5,-3.4],[31.6,-5,-.6],[35.1,3,5],[45.3,-5,-1],[45.8,-5,-.9],[47.1,-5,0],[48.3,-5,0],[49.4,-5,-2.8],[52.8,-5,-1.7],[59.9,-5,-.7],[60.6,-5,-1.9],[63,-5,-2.9],[65,-5,-2],[65.7,-5,-3.9],[66.2,3.2,5],[71.2,-5,-3.4],[71.8,3.7,5],[72.1,-5,-2.8],[73.6,-5,-4.4],[76.4,-5,0],[77.3,-5,-.8],[78.3,-5,0],[78.8,-5,-2.1],[79,-5,-3.9],[80.2,-5,-.3],[83.7,2.4,5],[83.9,3.2,5],[86.9,-5,-.6],[88.2,-5,-1.9],[88.7,-5,-1],[89.7,-5,-1.7],[90.9,-5,-3.3],[91.3,-5,-3.1],[91.8,-5,-.4],[93.3,1.9,5],[94.2,-5,0],[94.7,-5,-2.2],[95.2,-5,-3.2],[95.8,-5,-3.8],[96.3,-5,-1.3],[96.5,-5,0],[96.7,-5,-2.5],[97.2,-5,-.1],[97.8,-5,0],[98.2,-5,-3],[98.8,2.8,5],[98.8,-5,-1],[99,-5,-1],[99.2,-5,-1.5],[99.4,-5,-1.5],[99.6,-5,-1],[99.3,.5,5],[99.8,-5,0],[99.7,.5,5]];

const cbarTicksMS1=[.5,.4,.3,.2,.1,0];
const cbarTicksMS2=[.6,.5,.4,.3,.2,.1,0];
const cbarTicksMS3=[.3,.25,.2,.15,.1,.05,0];
const cbarTicksDR1=[.16,.14,.12,.1,.08,.06,.04,.02,0];
const cbarTicksDR2=[.2,.15,.1,.05,0];
const cbarTicksDR3=[.6,.5,.4,.3,.2,.1,0];
const profTicksMS1=[.4,.3,.2];
const profTicksMS2=[.5,.4,.3,.2];
const profTicksMS3=[.2,.15];
const profTicksDR1=[.2,.18,.16];
const profTicksDR2=[.225,.2,.175,.15,.125];
const profTicksDR3=[.5,.4,.3,.2];

/* ---------- helpers ---------- */
const svgRoot=document.getElementById('fig');
const NS=svgRoot.namespaceURI;
const defs=svgRoot.querySelector('defs');
function el(tag,attrs,parent){
  const n=document.createElementNS(NS,tag);
  for(const k in attrs){n.setAttribute(k,attrs[k]);}
  if(parent){parent.appendChild(n);}
  return n;
}
function put(tag,attrs,parent,name){
  const n=el(tag,attrs,parent);
  
  
  return n;
}
function label(parent,x,y,str,size,anchor,fill,cls,name){
  const n=el('text',{x:x,y:y,'font-size':size,'text-anchor':anchor,fill:fill,'class':cls},parent);
  
  
  n.textContent=str;
  return n;
}
function pts(list,fx,fy){return list.map(p=>fx(p[0]).toFixed(1)+','+fy(p[1]).toFixed(1)).join(' ');}

/* ---------- panel a ---------- */
(function(){
  const g=document.getElementById('panelA');
  const x=a=>292+83.6*(a-2);
  const y=m=>370+(10-m)*46.7;
  maYTicks.forEach(v=>{
    put('line',{x1:178,x2:1240,y1:y(v),y2:y(v),stroke:'#c4c4c4','stroke-width':3,'stroke-dasharray':'4 4'},g,'ma-gridline');
    put('line',{x1:169,x2:178,y1:y(v),y2:y(v),stroke:'#333','stroke-width':2.5},g,'ma-y-tick');
    label(g,162,y(v)+9,String(v.toFixed(1)).replace('-','\u2212'),25,'end','#333','dv','ma-y-tick-label');
  });
  maXTicks.forEach(v=>{
    put('line',{x1:x(v),x2:x(v),y1:1188,y2:1197,stroke:'#333','stroke-width':2.5},g,'ma-x-tick');
    label(g,x(v),1224,String(v),25,'middle','#333','dv','ma-x-tick-label');
  });
  put('polygon',{points:pts(maBlueCloud,x,y),fill:'#0c9bcc',stroke:'#0c9bcc','stroke-width':8,'stroke-linejoin':'round'},g,'dr-unique-cloud');
  put('polygon',{points:pts(maRedCloud,x,y),fill:'#f7323f',stroke:'#f7323f','stroke-width':8,'stroke-linejoin':'round'},g,'ms-unique-cloud');
  maBluePoints.forEach(p=>{put('circle',{cx:x(p[0]),cy:y(p[1]),r:3.6,fill:'#0aa0d2',opacity:.92},g,'ms-dr-unique-point');});
  maRedPoints.forEach(p=>{put('circle',{cx:x(p[0]),cy:y(p[1]),r:3.6,fill:'#f8323e',opacity:.88},g,'ms-unique-point');});
  put('polygon',{points:pts(maGrayCloud,x,y),fill:'#4a5868',stroke:'#4a5868','stroke-width':8,'stroke-linejoin':'round'},g,'common-peaks-cloud');
  maGrayPoints.forEach(p=>{put('circle',{cx:x(p[0]),cy:y(p[1]),r:3.4,fill:'#4f5d6d',opacity:.88},g,'common-peak-point');});
  put('rect',{x:178,y:342,width:1062,height:846,fill:'none',stroke:'#7c7c7c','stroke-width':4},g,'ma-plot-frame');
  put('rect',{x:927,y:352,width:303,height:99,fill:'#fff','fill-opacity':.85,stroke:'#e0e0e0','stroke-width':2,rx:4},g,'ma-legend-box');
  const legendColors=['#f8323e','#0aa0d2','#4f5d6d'];
  maLegendLabels.forEach((t,i)=>{
    put('circle',{cx:955,cy:370+i*31,r:3.6,fill:legendColors[i]},g,'ma-legend-marker');
    label(g,988,377+i*31,t,19,'start','#444','dv','ma-legend-label');
  });
})();

/* ---------- panel b ---------- */
function drawTracks(cfg,peaks){
  const g=document.getElementById('panelB');
  const x=v=>cfg.left+v*cfg.scale;
  chromNames.forEach((name,i)=>{
    const base=cfg.base+i*cfg.gap;
    [0,14,28,42].forEach(d=>{
      put('line',{x1:cfg.left,x2:cfg.right,y1:base-d,y2:base-d,stroke:'#f0f0f0','stroke-width':2.5},g,'track-gridline');
    });
    [500,1500,2500].forEach(v=>{
      put('line',{x1:x(v),x2:x(v),y1:base-55,y2:base,stroke:'#f7f7f7','stroke-width':2},g,'track-minor-gridline');
    });
    trackTicks.forEach(v=>{
      put('line',{x1:x(v),x2:x(v),y1:base-55,y2:base,stroke:'#ebebeb','stroke-width':2},g,'track-major-gridline');
    });
    const row=peaks[i];
    const binPx=chromLengths[i]*cfg.scale/row.length;
    row.forEach((h,k)=>{
      if(!h){return;}
      const px=x(chromLengths[i]*(k+.5)/row.length);
      put('rect',{x:px-binPx*.42,y:base-h*2,width:binPx*.84,height:h*2,fill:'#ffb3a6',opacity:.4},g,cfg.id+'-'+name+'-peak-band');
      put('line',{x1:px,x2:px,y1:base,y2:base-h*3,stroke:'#ff7563','stroke-width':2,opacity:.85},g,cfg.id+'-'+name+'-peak');
      put('line',{x1:px-binPx*.33,x2:px-binPx*.33,y1:base,y2:base-h*1.7,stroke:'#ff8f7f','stroke-width':1.6,opacity:.8},g,cfg.id+'-'+name+'-peak-shoulder');
      put('line',{x1:px+binPx*.3,x2:px+binPx*.3,y1:base,y2:base-h*2.3,stroke:'#ff8f7f','stroke-width':1.6,opacity:.8},g,cfg.id+'-'+name+'-peak-shoulder');
    });
    put('line',{x1:cfg.left,x2:x(chromLengths[i]),y1:base,y2:base,stroke:'#ff7468','stroke-width':3.4},g,cfg.id+'-'+name+'-baseline');
    label(g,cfg.labelX,base-18,name,23,'middle','#111','sans',cfg.id+'-'+name+'-label');
  });
  const bottom=cfg.base+19*cfg.gap;
  trackTicks.forEach(v=>{
    put('line',{x1:x(v),x2:x(v),y1:bottom+2,y2:bottom+10,stroke:'#333','stroke-width':2.5},g,cfg.id+'-x-tick');
    label(g,x(v),bottom+38,String(v),34,'middle','#111','sans',cfg.id+'-x-tick-label');
  });
}
drawTracks({id:'dr1',left:1402,scale:.3825,right:2453,base:140,gap:63.7,labelX:2490},dr1Peaks);
drawTracks({id:'ms1',left:2649,scale:.3795,right:3693,base:140,gap:63.1,labelX:3730},ms1Peaks);

/* ---------- panel c ---------- */
(function(){
  const g=document.getElementById('panelC');
  const colors=['#92c9df','#0579b3','#7cc68c','#00a63f','#bc986f','#ff4d4d','#ff6540','#ffa136','#ff8b3e','#b58fc2','#85548f','#f2e98a','#bf5320'];
  const x=v=>187+v*6.59;
  const y=i=>1685+i*129;
  const frame={l:156,r:879,t:1607,b:2407};
  [12.5,37.5,62.5,87.5].forEach(v=>{put('line',{x1:x(v),x2:x(v),y1:frame.t,y2:frame.b,stroke:'#f3f3f3','stroke-width':2},g,'feature-minor-gridline');});
  featureXTicks.forEach(v=>{
    put('line',{x1:x(v),x2:x(v),y1:frame.t,y2:frame.b,stroke:'#ebebeb','stroke-width':3},g,'feature-major-gridline');
    put('line',{x1:x(v),x2:x(v),y1:frame.b,y2:frame.b+7,stroke:'#333','stroke-width':2.5},g,'feature-x-tick');
    label(g,x(v),frame.b+34,String(v),27,'middle','#777','sans','feature-x-tick-label');
  });
  sampleNames.forEach((s,i)=>{
    put('line',{x1:frame.l,x2:frame.r,y1:y(i),y2:y(i),stroke:'#ebebeb','stroke-width':3},g,'feature-h-gridline');
    put('line',{x1:frame.l-7,x2:frame.l,y1:y(i),y2:y(i),stroke:'#333','stroke-width':2.5},g,'feature-y-tick');
    label(g,139,y(i)+10,s,27,'end','#777','sans','feature-y-tick-label');
    let acc=0;
    featureRows[i].forEach((w,k)=>{
      const seg=put('rect',{x:x(acc),y:y(i)-58.5,width:w*6.59,height:117,fill:colors[k]},g,'bar-'+s+'-segment');
      seg.setAttribute('data-feature',featureNames[k]);
      acc+=w;
    });
  });
  put('rect',{x:frame.l,y:frame.t,width:frame.r-frame.l,height:frame.b-frame.t,fill:'none',stroke:'#444','stroke-width':3.5},g,'feature-plot-frame');
  featureNames.forEach((f,i)=>{
    const ty=1736+i*45.2;
    put('rect',{x:927,y:ty,width:46,height:43,fill:colors[i]},g,'feature-legend-swatch');
    label(g,991,ty+31,f,25,'start','#444','sans','feature-legend-label');
  });
})();

/* ---------- panel d ---------- */
const cmapStops=[[0,[103,0,13]],[10,[165,15,21]],[20,[215,37,43]],[30,[240,101,79]],[40,[252,174,145]],[50,[247,247,247]],[60,[201,227,239]],[70,[116,188,216]],[80,[43,151,197]],[90,[5,105,168]],[100,[8,48,107]]];
function cmap(v){
  const t=Math.max(0,Math.min(100,v));
  for(let i=1;i<cmapStops.length;i++){
    if(t<=cmapStops[i][0]){
      const a=cmapStops[i-1],b=cmapStops[i],f=(t-a[0])/(b[0]-a[0]);
      return 'rgb('+a[1].map((c,k)=>Math.round(c+(b[1][k]-c)*f)).join(',')+')';
    }
  }
  return 'rgb(8,48,107)';
}
const heatLayouts=[
 {id:'ms1',title:'MS1',matrix:heatMS1,gaps:gapsMS1,profile:profileMS1,profTicks:profTicksMS1,cbarTicks:cbarTicksMS1,dec:1,vmax:.54,profDec:1,
  x0:1543,x1:1696,ptop:1487,pbot:1613,titleY:1481,tickY:1632,v1:.4,y1:1493,v2:.2,y2:1588,legY:1502,legX:1622,top:1646,bot:2532,cx:1704,geneY:2088,geneX:1532,botLabel:2551,distLabel:2568},
 {id:'ms2',title:'MS2',matrix:heatMS2,gaps:gapsMS2,profile:profileMS2,profTicks:profTicksMS2,cbarTicks:cbarTicksMS2,dec:1,vmax:.654,profDec:1,
  x0:1855,x1:2010,ptop:1482,pbot:1608,titleY:1474,tickY:1627,v1:.5,y1:1492,v2:.2,y2:1589,legY:1495,legX:1935,top:1642,bot:2538,cx:2018,geneY:2088,geneX:1844,botLabel:2557,distLabel:2574},
 {id:'ms3',title:'MS3',matrix:heatMS3,gaps:gapsMS3,profile:profileMS3,profTicks:profTicksMS3,cbarTicks:cbarTicksMS3,dec:2,vmax:.3156,profDec:2,
  x0:2172,x1:2323,ptop:1505,pbot:1629,titleY:1498,tickY:1647,v1:.2,y1:1537,v2:.15,y2:1584,legY:1519,legX:2249,top:1662,bot:2533,cx:2331,geneY:2097,geneX:2161,botLabel:2552,distLabel:2569},
 {id:'dr1',title:'DR1',matrix:heatDR1,gaps:gapsDR1,profile:profileDR1,profTicks:profTicksDR1,cbarTicks:cbarTicksDR1,dec:2,vmax:.1707,profDec:2,
  x0:2508,x1:2663,ptop:1497,pbot:1623,titleY:1489,tickY:1643,v1:.2,y1:1511,v2:.16,y2:1596,legY:1608,legX:2553,top:1657,bot:2549,cx:2671,geneY:2102,geneX:2497,botLabel:2568,distLabel:2585},
 {id:'dr2',title:'DR2',matrix:heatDR2,gaps:gapsDR2,profile:profileDR2,profTicks:profTicksDR2,cbarTicks:cbarTicksDR2,dec:2,vmax:.242,profDec:3,
  x0:2840,x1:2999,ptop:1494,pbot:1621,titleY:1486,tickY:1640,v1:.225,y1:1499,v2:.125,y2:1605,legY:1509,legX:2923,top:1653,bot:2544,cx:3008,geneY:2097,geneX:2829,botLabel:2562,distLabel:2579},
 {id:'dr3',title:'DR3',matrix:heatDR3,gaps:gapsDR3,profile:profileDR3,profTicks:profTicksDR3,cbarTicks:cbarTicksDR3,dec:1,vmax:.67,profDec:1,
  x0:3161,x1:3315,ptop:1497,pbot:1624,titleY:1490,tickY:1643,v1:.5,y1:1522,v2:.2,y2:1611,legY:1512,legX:3241,top:1657,bot:2548,cx:3323,geneY:2102,geneX:3151,botLabel:2567,distLabel:2584}
];
(function(){
  const root=document.getElementById('panelD');
  const blur=el('filter',{id:'colblur',filterUnits:'userSpaceOnUse',x:0,y:0,width:3822,height:2625},defs);
  el('feGaussianBlur',{stdDeviation:'2 0'},blur);
  const cbGrad=el('linearGradient',{id:'cbargrad',x1:0,y1:1,x2:0,y2:0},defs);
  cmapStops.forEach(s=>{el('stop',{offset:s[0]+'%','stop-color':cmap(s[0])},cbGrad);});

  heatLayouts.forEach(p=>{
    const g=put('g',{},root,'tss-panel-'+p.id);
    const w=p.x1-p.x0, h=p.bot-p.top;
    const kb=v=>p.x0+(v+5)/10*w;
    const py=v=>p.y1+(v-p.v1)*(p.y2-p.y1)/(p.v2-p.v1);
    label(g,(p.x0+p.x1)/2,p.titleY,p.title,13,'middle','#222','dv','profile-title');
    /* profile */
    const line=p.profile.map((v,i)=>[-5+i*10/(p.profile.length-1),v]);
    put('polyline',{points:pts(line,kb,py),fill:'none',stroke:'#c9cde8','stroke-width':5},g,'profile-band');
    put('polyline',{points:pts(line,kb,py),fill:'none',stroke:'#1a2580','stroke-width':2.6},g,'profile-line');
    put('rect',{x:p.x0,y:p.ptop,width:w,height:p.pbot-p.ptop,fill:'none',stroke:'#444','stroke-width':2.2},g,'profile-frame');
    p.profTicks.forEach(v=>{
      put('line',{x1:p.x0-5,x2:p.x0,y1:py(v),y2:py(v),stroke:'#222','stroke-width':2},g,'profile-y-tick');
      label(g,p.x0-8,py(v)+4,v.toFixed(p.profDec),11,'end','#333','dv','profile-y-tick-label');
    });
    [[-5,'-5.0','start'],[0,'TSS','middle'],[5,'5.0Kb','end']].forEach(t=>{
      put('line',{x1:kb(t[0]),x2:kb(t[0]),y1:p.pbot,y2:p.pbot+6,stroke:'#222','stroke-width':2},g,'profile-x-tick');
      label(g,kb(t[0]),p.tickY,t[1],11,t[2],'#333','dv','profile-x-tick-label');
      put('line',{x1:kb(t[0]),x2:kb(t[0]),y1:p.bot,y2:p.bot+6,stroke:'#222','stroke-width':2},g,'heatmap-x-tick');
      label(g,kb(t[0]),p.botLabel,t[1],11,t[2],'#333','dv','heatmap-x-tick-label');
    });
    put('line',{x1:p.legX,x2:p.legX+24,y1:p.legY,y2:p.legY,stroke:'#1a2580','stroke-width':3},g,'profile-legend-line');
    label(g,p.legX+31,p.legY+4,'genes',11,'start','#333','dv','profile-legend-label');
    label(g,(p.x0+p.x1)/2,p.distLabel,'gene distance (bp)',11,'middle','#333','dv','heatmap-x-axis-title');
    const gl=label(g,p.geneX,p.geneY,'genes',11,'middle','#333','dv','heatmap-y-axis-title');
    gl.setAttribute('transform','rotate(-90 '+p.geneX+' '+p.geneY+')');

    /* heatmap columns: one vertical gradient per column, one stop per matrix row */
    const clip=el('clipPath',{id:'clip-'+p.id},defs);
    el('rect',{x:p.x0,y:p.top,width:w,height:h},clip);
    const outer=put('g',{'clip-path':'url(#clip-'+p.id+')'},g,'heatmap-'+p.id);
    const cells=put('g',{filter:'url(#colblur)'},outer,'heatmap-cells');
    const cols=p.matrix[0].length, rows=p.matrix.length, cw=w/cols;
    for(let c=0;c<cols;c++){
      const grad=el('linearGradient',{id:'hg-'+p.id+'-'+c,x1:0,y1:0,x2:0,y2:1},defs);
      for(let r=0;r<rows;r++){
        el('stop',{offset:(r/(rows-1)*100)+'%','stop-color':cmap(p.matrix[r][c])},grad);
      }
      const ext=(c===0||c===cols-1)?8:0;
      put('rect',{x:p.x0+c*cw-(c===0?8:0),y:p.top,width:cw+ext+.6,height:h,fill:'url(#hg-'+p.id+'-'+c+')'},cells,'heatmap-column');
    }
    p.gaps.forEach(q=>{
      const edge=q[0]<1.2||q[0]>98.7;
      put('rect',{x:kb(q[1]),y:p.top+q[0]/100*h,width:kb(q[2])-kb(q[1]),height:edge?3:2,fill:'#1c1414',opacity:edge?.95:(p.id==='dr1'?.45:.62)},outer,'heatmap-missing-row');
    });
    put('rect',{x:p.x0,y:p.top,width:w,height:h,fill:'none',stroke:'#333','stroke-width':2.2},g,'heatmap-frame');
    /* colour bar */
    put('rect',{x:p.cx,y:p.top,width:16,height:h,fill:'url(#cbargrad)',stroke:'#444','stroke-width':1.6},g,'colorbar-'+p.id);
    p.cbarTicks.forEach(v=>{
      const ty=p.bot-(v/p.vmax)*h;
      put('line',{x1:p.cx+16,x2:p.cx+20,y1:ty,y2:ty,stroke:'#222','stroke-width':2},g,'colorbar-tick');
      label(g,p.cx+24,ty+4,v.toFixed(p.dec),11,'start','#333','dv','colorbar-tick-label');
    });
  });
})();
</script>
</body>
</html>
